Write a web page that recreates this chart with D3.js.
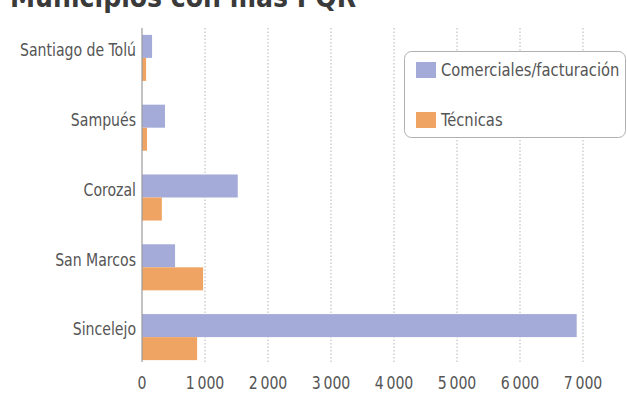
<!DOCTYPE html>
<html><head><meta charset="utf-8">
<script src="https://cdn.jsdelivr.net/npm/d3@7"></script>
<style>
html,body{margin:0;padding:0;background:#fff;}
svg{display:block;}
text{font-family:"DejaVu Sans Condensed","DejaVu Sans",sans-serif;font-stretch:condensed;}
</style></head>
<body>
<svg id="c" width="627" height="401"></svg>
<script>
const title = "Municipios con más PQR";
const categories = ["Santiago de Tolú","Sampués","Corozal","San Marcos","Sincelejo"];
const seriesNames = ["Comerciales/facturación","Técnicas"];
const comerciales = [160, 365, 1520, 525, 6900];
const tecnicas = [65, 80, 315, 970, 875];
const tickValues = [0,1000,2000,3000,4000,5000,6000,7000];
const colors = ["#a4abd9","#f0a463"];
const SX = 0.87;

const svg = d3.select("#c");
svg.append("rect").attr("width",627).attr("height",401).attr("fill","#fff");

svg.append("text").attr("x",10).attr("y",7)
  .attr("font-weight","bold").attr("font-size",28).attr("fill","#3a3a3a")
  .text(title);

const x = d3.scaleLinear().domain([0,7000]).range([142,583]);
const y = d3.scaleBand().domain(categories).range([23,372]).paddingInner(0.34).paddingOuter(0.17);
const ySub = d3.scaleBand().domain(seriesNames).range([0,y.bandwidth()]);

// grid
svg.append("g").selectAll("line").data(tickValues.slice(1)).join("line")
  .attr("x1",d=>x(d)).attr("x2",d=>x(d)).attr("y1",28).attr("y2",362)
  .attr("stroke","#b5b5b5").attr("stroke-width",1).attr("stroke-dasharray","1.5,2");

const rows = categories.map((c,i)=>({cat:c, vals:[comerciales[i],tecnicas[i]]}));
const g = svg.append("g");
rows.forEach(r=>{
  r.vals.forEach((v,j)=>{
    g.append("rect").attr("x",x(0)).attr("y",y(r.cat)+ySub(seriesNames[j]))
     .attr("width",x(v)-x(0)).attr("height",ySub.bandwidth()).attr("fill",colors[j]);
  });
});

// axis line
svg.append("line").attr("x1",x(0)).attr("x2",x(0)).attr("y1",28).attr("y2",362)
  .attr("stroke","#9a9a9a").attr("stroke-width",1.2);

// category labels
svg.append("g").selectAll("g").data(categories).join("g")
  .attr("transform",d=>`translate(136,${y(d)+y.bandwidth()/2-8}) scale(${SX},1)`)
  .append("text").attr("dy","0.35em")
  .attr("text-anchor","end").attr("font-size",18).attr("fill","#555").text(d=>d);

// x axis tick labels
const fmt = d=> d===0 ? "0" : d3.format(",")(d).replace(",","\u2009");
svg.append("g").selectAll("g").data(tickValues).join("g")
  .attr("transform",d=>`translate(${x(d)},383) scale(${SX},1)`)
  .append("text").attr("dy","0.35em").attr("text-anchor","middle")
  .attr("font-size",18).attr("fill","#555").text(fmt);

// legend
const lg = svg.append("g");
lg.append("rect").attr("x",404.5).attr("y",51.5).attr("width",221).attr("height",86)
  .attr("rx",7).attr("fill","#fff").attr("stroke","#b0b0b0").attr("stroke-width",1);
seriesNames.forEach((s,i)=>{
  const yy = 62 + i*50;
  lg.append("rect").attr("x",416).attr("y",yy).attr("width",20).attr("height",16).attr("fill",colors[i]);
  lg.append("g").attr("transform",`translate(441,${yy+8}) scale(0.91,1)`)
    .append("text").attr("dy","0.35em")
    .attr("font-size",18).attr("fill","#555").text(s);
});
</script>
</body></html>
